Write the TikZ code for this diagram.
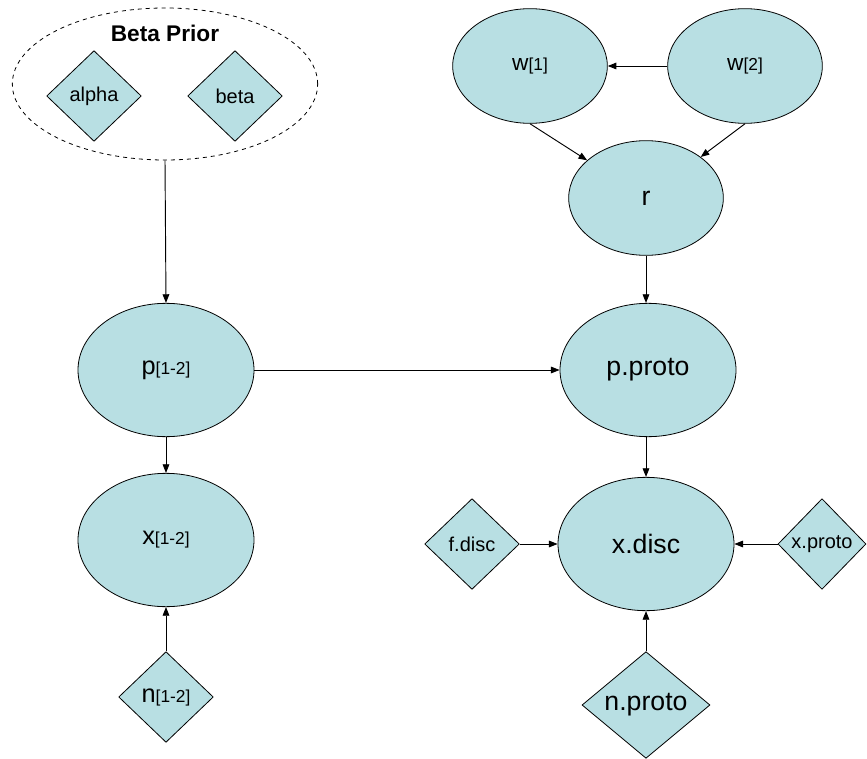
\documentclass[tikz,border=0pt]{standalone}
\usepackage{fontspec}
\setmainfont{Liberation Sans}
\usetikzlibrary{shapes.geometric,arrows.meta}

\definecolor{nodefill}{RGB}{184,223,227}
\newcommand{\varidx}[3][18]{{\fontsize{#1}{#1}\selectfont #2}{\fontsize{13}{13}\selectfont #3}}

\tikzset{
  state/.style={ellipse, draw, fill=nodefill, line width=0.6pt, inner sep=0pt,
    minimum width=132pt, minimum height=100pt, font=\fontsize{20}{22}\selectfont},
  smallstate/.style={state, minimum width=116pt, minimum height=86pt},
  fixed/.style={diamond, draw, fill=nodefill, line width=0.6pt, inner sep=0pt,
    minimum width=71pt, minimum height=68pt, font=\fontsize{15}{17}\selectfont},
  link/.style={line width=0.7pt, -{Triangle[length=6.5pt,width=5pt]}}
}

\begin{document}
\begin{tikzpicture}[x=0.75pt,y=0.75pt,yscale=-1,xscale=1]
%set diagram size
\useasboundingbox (0,0) rectangle (867,759);

%Shape: Ellipse [prior]
\node [ellipse, draw, dashed, line width=0.6pt, minimum width=229pt, minimum height=114pt] (prior) at (165,84) {};
% Text Node
\node [font=\bfseries\fontsize{17}{19}\selectfont] (priortitle) at (165,33) {Beta Prior};
%Shape: Diamond
\node [fixed] (alpha) at (94,96) {alpha};
%Shape: Diamond
\node [fixed] (beta) at (235,96) {beta};

%Shape: Ellipse
\node [state] (p) at (166,370) {\varidx[19]{p}{[1-2]}};
%Shape: Ellipse
\node [state] (x) at (166,540) {\varidx[19]{x}{[1-2]}};
%Shape: Diamond
\node [fixed] (n) at (166,697) {\varidx[19]{n}{[1-2]}};

%Shape: Ellipse
\node [smallstate] (w1) at (530,66) {\varidx[17]{w}{[1]}};
%Shape: Ellipse
\node [smallstate] (w2) at (745,66) {\varidx[17]{w}{[2]}};
%Shape: Ellipse
\node [smallstate] (r) at (646,198) {r};

%Shape: Ellipse
\node [state] (pproto) at (648,370) {p.proto};
%Shape: Ellipse
\node [state] (xdisc) at (646,544) {x.disc};
%Shape: Diamond
\node [fixed] (fdisc) at (472,544) {f.disc};
%Shape: Diamond
\node [fixed, minimum width=66pt] (xproto) at (822,544) {x.proto};
%Shape: Diamond
\node [fixed, minimum width=96pt, minimum height=80pt, font=\fontsize{20}{22}\selectfont] (nproto) at (646,705) {n.proto};

%Straight Lines
\draw [link] (prior.south) -- (p.north);
\draw [link] (p) -- (x);
\draw [link] (n) -- (x);
\draw [link] (p) -- (pproto);
\draw [link] (w2) -- (w1);
\draw [link] (w1.south) -- (r);
\draw [link] (w2.south) -- (r);
\draw [link] (r) -- (r |- pproto.north);
\draw [link] (pproto.south -| xdisc) -- (xdisc);
\draw [link] (fdisc) -- (xdisc);
\draw [link] (xproto) -- (xdisc);
\draw [link] (nproto) -- (xdisc);

\end{tikzpicture}
\end{document}
